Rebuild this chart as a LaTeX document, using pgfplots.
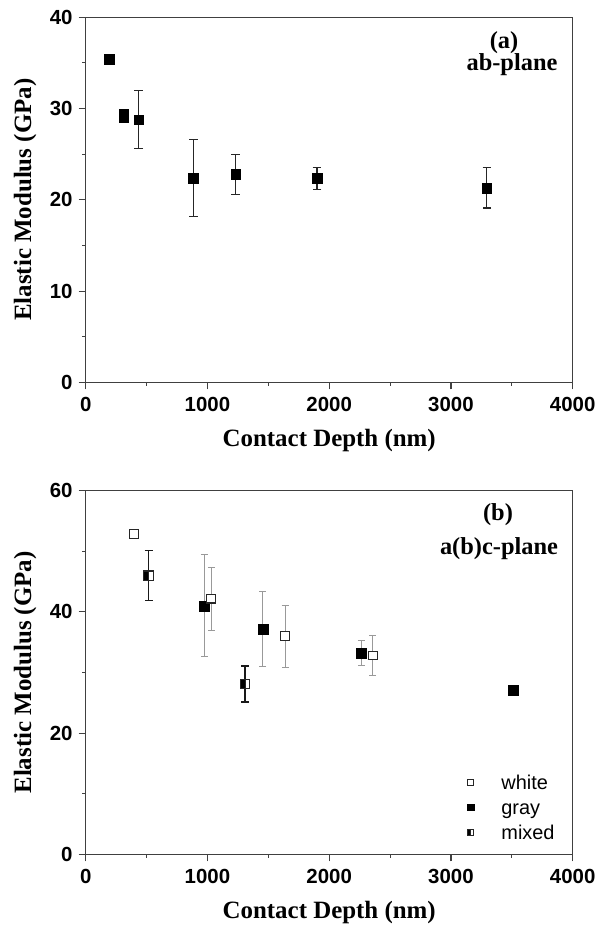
\documentclass[border=0pt]{standalone}
\usepackage{fontspec}
\setmainfont{Liberation Serif}
\setsansfont{Liberation Sans}
\usepackage{pgfplots}
\pgfplotsset{compat=1.18}

% half black / half white square for the "mixed" series
\pgfdeclareplotmark{halfsq}{%
  \pgfscope
  \pgfpathrectangle{\pgfpoint{-\pgfplotmarksize}{-\pgfplotmarksize}}{\pgfpoint{2\pgfplotmarksize}{2\pgfplotmarksize}}%
  \pgfsetfillcolor{white}%
  \pgfusepathqfillstroke
  \endpgfscope
  \pgfscope
  \pgfpathrectangle{\pgfpoint{-\pgfplotmarksize}{-\pgfplotmarksize}}{\pgfpoint{\pgfplotmarksize}{2\pgfplotmarksize}}%
  \pgfsetfillcolor{black}%
  \pgfusepathqfillstroke
  \endpgfscope
}

\pgfplotsset{
  panel/.style={
    width=487bp, scale only axis, anchor=south west,
    xmin=0, xmax=4000, xtick={0,1000,...,4000},
    minor x tick num=1, minor y tick num=1,
    tick align=outside, xtick pos=bottom, ytick pos=left,
    axis line style={black!75, line width=1.1bp},
    tick style={black!75, line width=1.1bp},
    major tick length=7bp, minor tick length=3.5bp,
    tick label style={font=\fontsize{20.5}{24}\selectfont\sffamily\bfseries, inner sep=0pt},
    /pgf/number format/assume math mode=true,
    /pgf/number format/set thousands separator={},
    scaled ticks=false,
    yticklabel style={xshift=-6bp},
    xticklabel style={yshift=-7.7bp},
    clip=false,
  },
  ebar/.style={error bars/.cd, y dir=both, y explicit,
    error bar style={#1},
    error mark options={rotate=90, #1}},
}

\newcommand{\lab}{\fontsize{25}{28}\selectfont\bfseries}
\newcommand{\ann}{\fontsize{24.5}{28}\selectfont\bfseries}

\begin{document}
\begin{tikzpicture}[x=1bp,y=1bp]
\useasboundingbox (0bp,0bp) rectangle (606bp,-928bp);

% ---------- (a) ab-plane ----------
\begin{axis}[panel, at={(85.7bp,-382.3bp)}, height=365bp,
  ymin=0, ymax=40, ytick={0,10,...,40}]
\addplot[only marks, mark=square*, mark size=4.8bp, black,
  ebar={black!85, line width=1.1bp, mark size=4.3bp}] coordinates {
  (195,35.4)  +- (0,0)
  (313,29.35) +- (0,0)
  (313,29.05) +- (0,0)
  (436,28.8)  +- (0,3.2)
  (885,22.4)  +- (0,4.2)
  (1232,22.8) +- (0,2.2)
  (1900,22.35) +- (0,1.2)
  (3295,21.3) +- (0,2.2)
};
\end{axis}

% ---------- (b) a(b)c-plane ----------
\begin{axis}[panel, at={(85.7bp,-854.3bp)}, height=363.6bp,
  ymin=0, ymax=60, ytick={0,20,...,60},
  legend cell align=left,
  legend style={draw=none, fill=none, inner sep=0pt, outer sep=0pt,
    at={(axis description cs:0.784,0.218)}, anchor=north west,
    font=\fontsize{20}{24}\selectfont\sffamily,
    nodes={inner sep=0pt, text height=14.6bp, text depth=0pt},
    row sep=10.4bp, column sep=27.5bp},
  legend image post style={mark size=3.2bp}]
% gray, with error bars
\addplot[forget plot, only marks, mark=square*, mark size=5bp, black,
  ebar={black!40, line width=1bp, mark size=3.4bp}] coordinates {
  (974,41.0)  +- (0,8.4)
  (1454,37.2) +- (0,6.2)
  (2262,33.2) +- (0,2.1)
};
% white, with error bars
\addplot[forget plot, only marks, mark=square*, mark size=4.4bp,
  draw=black!85, fill=white, line width=1.1bp,
  ebar={black!40, line width=1bp, mark size=3.4bp}] coordinates {
  (1031,42.2) +- (0,5.2)
  (1638,36.0) +- (0,5.1)
  (2357,32.8) +- (0,3.3)
};
% white, no error bar
\addplot[only marks, mark=square*, mark size=4.4bp,
  draw=black!85, fill=white, line width=1.1bp] coordinates {
  (398,52.86)
};
\addlegendentry{white}
% gray, no error bar
\addplot[only marks, mark=square*, mark size=5bp, black] coordinates {
  (3509,27.0)
};
\addlegendentry{gray}
% mixed
\addplot[only marks, mark=halfsq, mark size=4.6bp, draw=black!85, line width=1.1bp,
  ebar={black!90, line width=1.5bp, mark size=4bp}] coordinates {
  (516,46.0)  +- (0,4.1)
  (1309,28.1) +- (0,3.0)
};
\addlegendentry{mixed}
\end{axis}

% annotations and axis titles
\node[font=\ann, anchor=base] at (504bp,-48bp) {(a)};
\node[font=\ann, anchor=base] at (512bp,-70.7bp) {ab-plane};
\node[font=\ann, anchor=base] at (498bp,-520bp) {(b)};
\node[font=\ann, anchor=base] at (499bp,-554bp) {a(b)c-plane};

\node[font=\lab, anchor=base] at (329.2bp,-446bp) {Contact Depth (nm)};
\node[font=\lab, anchor=base] at (329.2bp,-918bp) {Contact Depth (nm)};
\node[font=\lab, anchor=base, rotate=90] at (31bp,-199.7bp) {Elastic Modulus (GPa)};
\node[font=\lab, anchor=base, rotate=90] at (31bp,-672.5bp) {Elastic Modulus (GPa)};
\end{tikzpicture}
\end{document}
